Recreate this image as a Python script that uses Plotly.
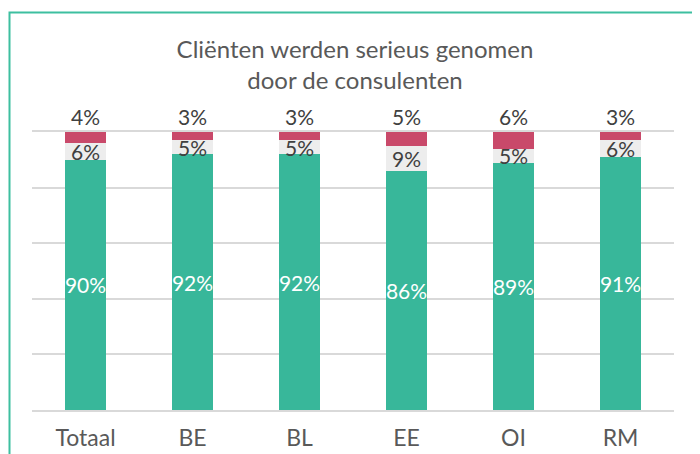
import plotly.graph_objects as go

categories = ["Totaal", "BE", "BL", "EE", "OI", "RM"]
eens = [90, 92, 92, 86, 89, 91]
neutraal = [6, 5, 5, 9, 5, 6]
oneens = [4, 3, 3, 5, 6, 3]

title_text = "Cliënten werden serieus genomen<br>door de consulenten"
FONT = "Lato, 'Open Sans', sans-serif"
LBL = 21

fig = go.Figure()
fig.add_trace(go.Bar(
    x=categories, y=eens, name="eens",
    marker=dict(color="#38B79A", line=dict(width=0)),
    text=[f"{v}%" for v in eens], textposition="inside", textangle=0,
    insidetextanchor="middle", constraintext="none",
    textfont=dict(color="white", size=LBL, family=FONT),
))
fig.add_trace(go.Bar(
    x=categories, y=neutraal, name="neutraal",
    marker=dict(color="#EDEDED", line=dict(width=0)),
    text=[f"{v}%" for v in neutraal], textposition="inside", textangle=0,
    insidetextanchor="middle", constraintext="none",
    textfont=dict(color="#404040", size=LBL, family=FONT),
))
fig.add_trace(go.Bar(
    x=categories, y=oneens, name="oneens",
    marker=dict(color="#C9496A", line=dict(width=0)),
    text=[f"{v}%" for v in oneens], textposition="outside", textangle=0,
    constraintext="none", cliponaxis=False,
    textfont=dict(color="#404040", size=LBL, family=FONT),
))

# page body has an 8px margin: plot area on screen x 32..674, y 132..410
fig.update_layout(
    width=700, height=454,
    barmode="stack", bargap=0.61,
    showlegend=False,
    plot_bgcolor="white", paper_bgcolor="white",
    margin=dict(l=24, r=34, t=124, b=52, autoexpand=False),
    font=dict(family=FONT, color="#595959"),
    title=dict(text=title_text, x=(355 - 8) / 700, xanchor="center", y=0.89, yanchor="middle",
               font=dict(size=24, color="#595959", family=FONT)),
    xaxis=dict(showgrid=False, showline=True, mirror=True, linecolor="#D9D9D9",
               linewidth=1.5, layer="below traces", ticks="", automargin=False,
               ticklabelstandoff=7,
               tickfont=dict(size=23, color="#595959", family=FONT)),
    yaxis=dict(range=[0, 100], dtick=20, showgrid=True, gridcolor="#D9D9D9",
               gridwidth=1.5, zeroline=False, showticklabels=False, showline=False,
               automargin=False, layer="below traces"),
    shapes=[dict(type="rect", xref="paper", yref="paper",
                 x0=(9.5 - 32) / 642, x1=(712 - 32) / 642,
                 y0=-(470 - 410) / 278, y1=1 + (132 - 12.5) / 278,
                 line=dict(color="#3DBFA0", width=2), fillcolor="rgba(0,0,0,0)",
                 layer="below")],
)

fig.write_html("out.html")
